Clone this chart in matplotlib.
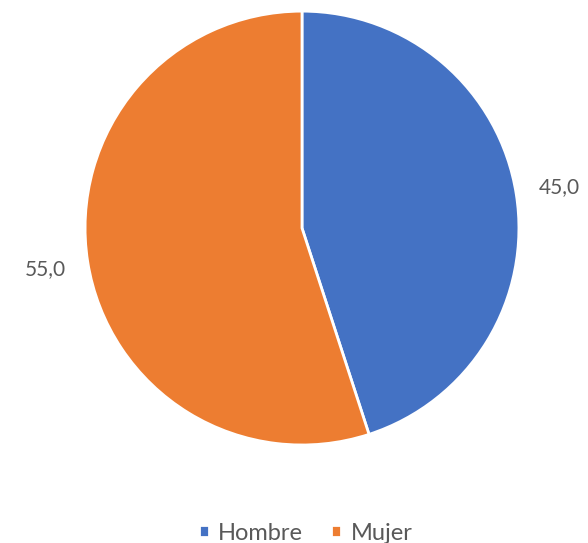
import matplotlib
matplotlib.use("Agg")
import matplotlib.pyplot as plt

categories = ["Hombre", "Mujer"]
values = [45.0, 55.0]
colors = ["#4472C4", "#ED7D31"]
text_color = "#595959"

plt.rcParams['font.family'] = ['Lato', 'DejaVu Sans']

fig = plt.figure(figsize=(5.88, 5.43), dpi=100)
ax = fig.add_axes([0.1446, 0.1805, 0.738, 0.799])

wedges, texts = ax.pie(values, colors=colors, startangle=90, counterclock=False,
                       labels=[f"{v:.1f}".replace(".", ",") for v in values],
                       labeldistance=1.2,
                       wedgeprops=dict(edgecolor="white", linewidth=2),
                       textprops=dict(color=text_color, fontsize=15))
for t in texts:
    t.set_ha("center")
    t.set_va("center")
    t.set_clip_on(False)
ax.set_xlim(-1, 1)
ax.set_ylim(-1, 1)
ax.set_aspect("equal")

leg = fig.legend(wedges, categories, loc="center", bbox_to_anchor=(0.52, 0.018),
                 ncol=2, frameon=False, fontsize=17, handlelength=0.4, handleheight=0.4,
                 handletextpad=0.4, columnspacing=1.2)
for t in leg.get_texts():
    t.set_color(text_color)

fig.savefig("out.png", dpi=100)
